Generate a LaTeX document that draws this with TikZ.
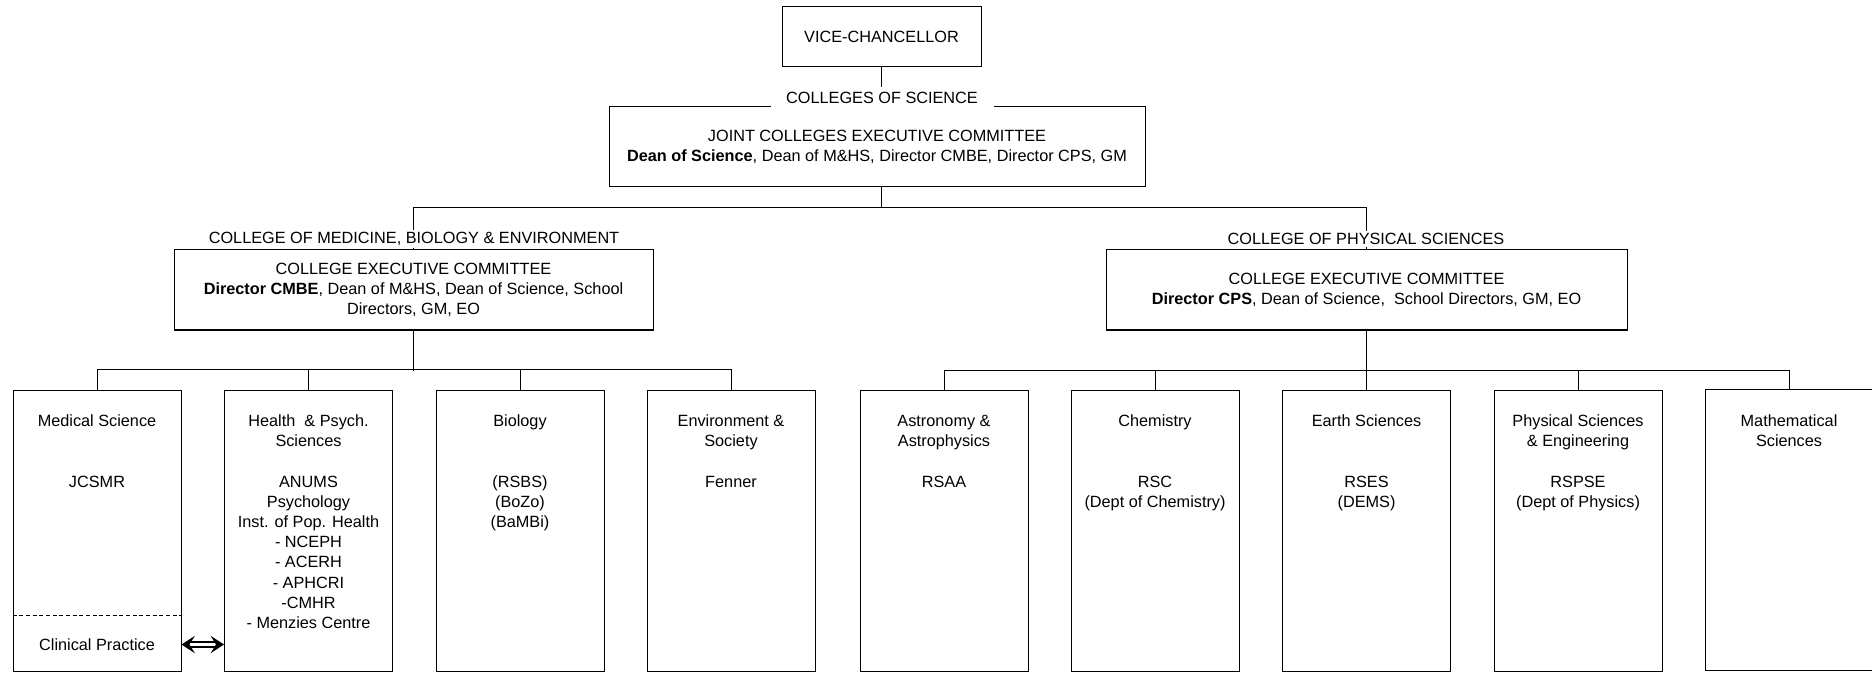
\documentclass[tikz,border=0pt]{standalone}
\usepackage{fontspec}
\setmainfont{Liberation Sans}
\usetikzlibrary{arrows.meta}
\begin{document}
\begin{tikzpicture}[x=0.75pt,y=-0.75pt,
  every node/.style={font=\fontsize{12.2}{15.15}\selectfont},
  box/.style={draw, line width=0.75pt, inner sep=0pt, align=center},
  school/.style={box, minimum width=126pt, minimum height=211.1pt},
  stext/.style={anchor=north, inner sep=0pt, align=center, yshift=-17pt},
  clab/.style={fill=white, inner sep=1.5pt},
  conn/.style={line width=0.75pt},
  dline/.style={line width=0.75pt, dash pattern=on 3pt off 2pt},
  dblarrow/.style={{Stealth[length=10pt,width=13pt,inset=4pt]}-{Stealth[length=10pt,width=13pt,inset=4pt]}, double, double distance=1.8pt, line width=1.5pt}
]
\useasboundingbox (0,0) rectangle (1872,673);

% boxes
\node[box, minimum width=149.25pt, minimum height=45pt] (vc) at (881.5,37) {VICE-CHANCELLOR};
\node[box, minimum width=402pt, minimum height=60pt] (jcec) at (877,147)
  {JOINT COLLEGES EXECUTIVE COMMITTEE\\\textbf{Dean of Science}, Dean of M\&HS, Director CMBE, Director CPS, GM};
\node[box, minimum width=359.25pt, minimum height=60pt] (cmbe) at (413.5,290)
  {COLLEGE EXECUTIVE COMMITTEE\\\textbf{Director CMBE}, Dean of M\&HS, Dean of Science, School\\Directors, GM, EO};
\node[box, minimum width=390.75pt, minimum height=60pt] (cps) at (1366.5,290)
  {COLLEGE EXECUTIVE COMMITTEE\\\textbf{Director CPS}, Dean of Science,\ \ School Directors, GM, EO};

% schools
\node[school] (med) at (97,530.75) {};
\node[school] (health) at (308.5,530.75) {};
\node[school] (bio) at (520,530.75) {};
\node[school] (env) at (731,530.75) {};
\node[school] (astro) at (944,530.75) {};
\node[school] (chem) at (1155,530.75) {};
\node[school] (earth) at (1366.5,530.75) {};
\node[school] (phys) at (1578,530.75) {};
\node[school] (math) at (1789,529.75) {};

\node[stext] (medT) at (med.north) {\strut Medical Science\\[30.3pt]JCSMR};
\node[stext] (healthT) at (health.north) {\strut Health\ \ \&  Psych.\\Sciences\\[15.15pt]ANUMS\\Psychology\\Inst. of Pop. Health\\- NCEPH\\- ACERH\\- APHCRI\\-CMHR\\- Menzies Centre};
\node[stext] (bioT) at (bio.north) {\strut Biology\\[30.3pt](RSBS)\\(BoZo)\\(BaMBi)};
\node[stext] (envT) at (env.north) {\strut Environment \&\\Society\\[15.15pt]Fenner};
\node[stext] (astroT) at (astro.north) {\strut Astronomy \&\\Astrophysics\\[15.15pt]RSAA};
\node[stext] (chemT) at (chem.north) {\strut Chemistry\\[30.3pt]RSC\\(Dept of Chemistry)};
\node[stext] (earthT) at (earth.north) {\strut Earth Sciences\\[30.3pt]RSES\\(DEMS)};
\node[stext] (physT) at (phys.north) {\strut Physical Sciences\\\& Engineering\\[15.15pt]RSPSE\\(Dept of Physics)};
\node[stext, yshift=-0.75pt] (mathT) at (math.north) {\strut Mathematical\\Sciences};

% clinical practice
\draw[dline] ([yshift=42.4pt]med.south west) -- ([yshift=42.4pt]med.south east);
\node (cp) at ([yshift=20.6pt]med.south) {Clinical Practice};
\draw[dblarrow] (med.east |- cp) -- (health.west |- cp);

% connectors
\draw[conn] (vc.south) -- (vc.south |- jcec.north);
\draw[conn] (vc.south |- jcec.south) -- ++(0,21);
\draw[conn] (cmbe.north) -- ++(0,-42) -| (cps.north);
\draw[conn] (cmbe.south) -- ++(0,40);
\draw[conn] (med.north) -- ++(0,-20) -| (env.north);
\draw[conn] (health.north) -- ++(0,-20);
\draw[conn] (bio.north) -- ++(0,-20);
\draw[conn] (cps.south) -- ++(0,41);
\draw[conn] (astro.north) -- ++(0,-19) -| (math.north);
\draw[conn] (chem.north) -- ++(0,-19);
\draw[conn] (earth.north) -- ++(0,-19);
\draw[conn] (phys.north) -- ++(0,-19);

% college labels
\node[clab, inner sep=0pt, minimum width=167.25pt, minimum height=16.5pt] (cos) at (882,98) {COLLEGES OF SCIENCE};
\node[clab] (cmbeL) at (414,239) {COLLEGE OF MEDICINE, BIOLOGY \& ENVIRONMENT};
\node[clab] (cpsL) at (1366,239) {COLLEGE OF PHYSICAL SCIENCES};
\end{tikzpicture}
\end{document}
